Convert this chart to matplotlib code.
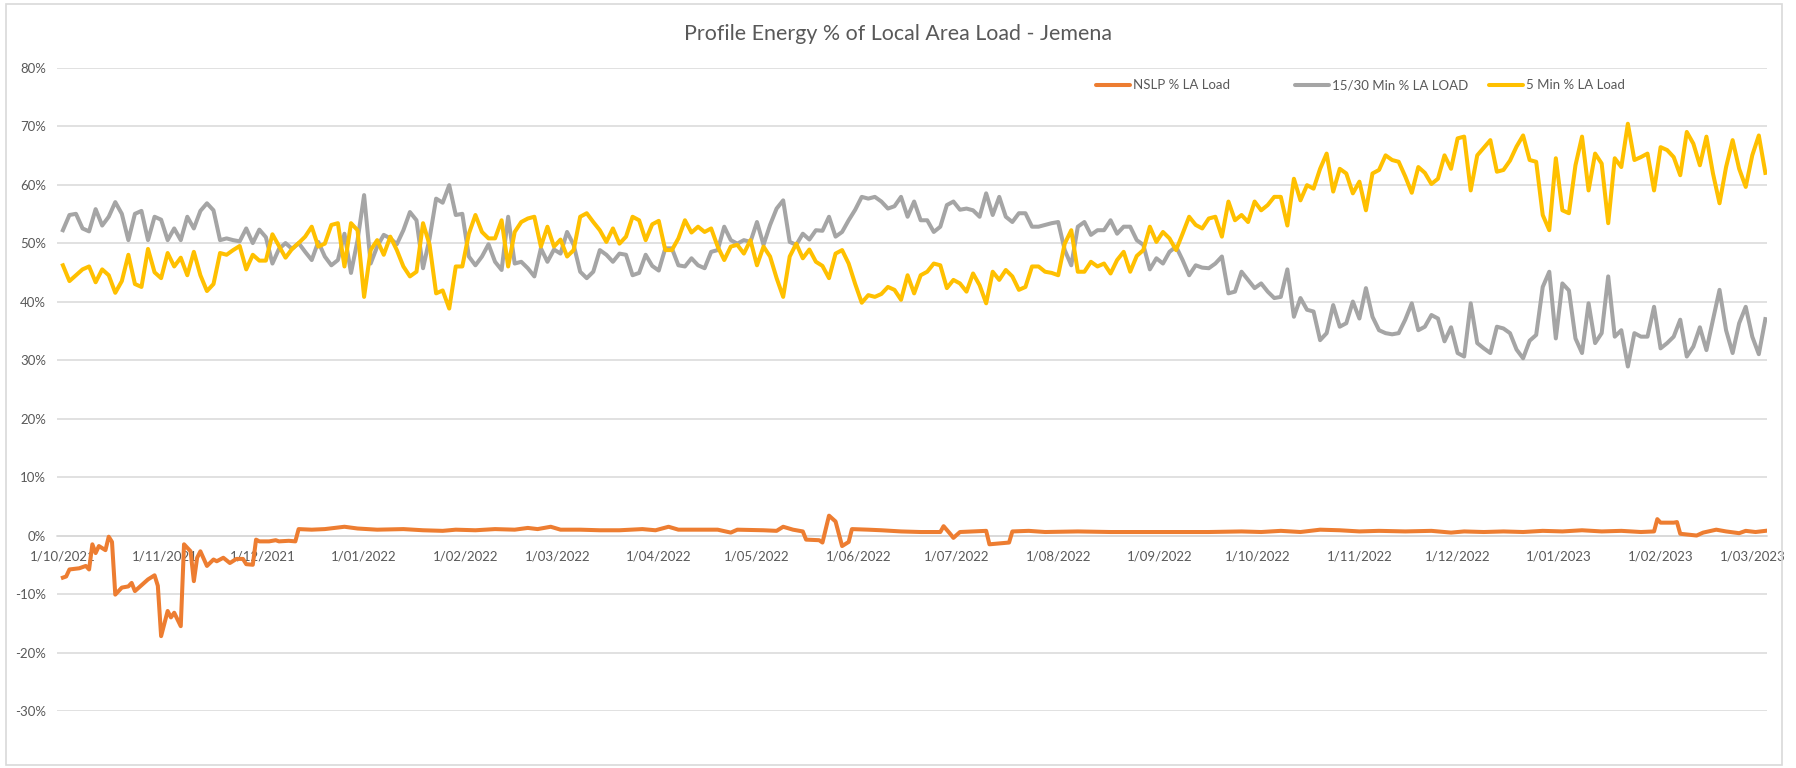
import matplotlib
matplotlib.use("Agg")
import matplotlib.pyplot as plt
import matplotlib.dates as mdates
from matplotlib.lines import Line2D
from matplotlib.patches import Rectangle
import numpy as np
import pandas as pd

W, H = 1796, 768
START = pd.Timestamp("2021-10-01")

# 15/30 min and 5 min shares, one value every second day from START (%)
STEP_DAYS = 2
min15_30_pct = [
    52.2, 54.8, 55.0, 52.5, 52.0, 55.8, 53.0, 54.5, 57.0, 55.0, 50.5, 55.0, 55.5, 50.5, 54.5, 54.0,
    50.5, 52.5, 50.5, 54.5, 52.5, 55.5, 56.8, 55.6, 50.5, 50.8, 50.5, 50.3, 52.5, 50.0, 52.3, 51.0,
    46.5, 49.0, 50.0, 49.0, 50.0,
    48.5, 47.1, 50.2, 47.7, 46.2, 47.1, 51.6, 44.9, 50.5, 58.2, 46.5, 49.4, 51.4, 50.8, 49.8, 52.2,
    55.3, 53.9, 45.7, 50.8, 57.6, 56.9, 59.9, 54.8, 55.0, 47.7, 46.2, 47.7, 49.8, 46.8, 45.4, 54.5,
    46.5, 46.8, 45.7, 44.3, 49.1,
    46.8, 48.9, 48.2, 51.9, 49.7, 45.1, 44.0, 45.1, 48.8, 48.0, 46.8, 48.2, 48.0, 44.5, 44.9, 48.0,
    46.1, 45.3, 49.1, 49.1, 46.2, 46.0, 47.4, 46.2, 45.7, 48.5, 48.8, 52.8, 50.5, 49.9, 50.5, 50.2,
    53.6, 49.7, 53.1, 55.9, 57.3, 50.2,
    49.7, 51.6, 50.6, 52.2, 52.1, 54.5, 51.1, 51.9, 53.9, 55.7, 57.9, 57.6, 57.9, 57.1, 55.9, 56.3,
    57.9, 54.5, 57.1, 53.9, 53.9, 51.9, 52.8, 56.5, 57.1, 55.7, 55.9, 55.6, 54.5, 58.5, 54.8, 57.9,
    54.5, 53.6, 55.1, 55.1, 52.8, 52.8,
    53.1, 53.4, 53.6, 48.8, 46.2, 52.8, 53.6, 51.4, 52.2, 52.2, 53.9, 51.6, 52.8, 52.8, 50.5, 49.7,
    45.5, 47.4, 46.5, 48.5, 49.4, 47.1, 44.5, 46.2, 45.8, 45.7, 46.5, 47.7, 41.4, 41.7, 45.1, 43.7,
    42.3, 43.1, 41.7, 40.6, 40.8,
    45.5, 37.4, 40.6, 38.6, 38.3, 33.4, 34.6, 39.4, 35.7, 36.3, 40.0, 37.1, 42.3, 37.4, 35.1, 34.6,
    34.4, 34.6, 36.9, 39.7, 35.1, 35.7, 37.7, 37.1, 33.2, 35.6, 31.2, 30.6, 39.7, 32.9, 32.0, 31.2,
    35.7, 35.4, 34.6, 31.8, 30.3,
    33.3, 34.3, 42.5, 45.1, 33.7, 43.1, 41.9, 33.7, 31.2, 39.7, 32.9, 34.6, 44.3, 34.0, 35.1, 28.9,
    34.6, 34.0, 34.0, 39.1, 32.0, 32.9, 34.0, 36.9, 30.6, 32.3, 35.6, 31.7, 36.9, 42.0, 35.1, 31.2,
    36.3, 39.1, 34.0, 31.0, 37.0,
]
min5_pct = [
    46.2, 43.5, 44.5, 45.5, 46.0, 43.3, 45.5, 44.5, 41.5, 43.5, 48.0, 43.0, 42.5, 49.0, 45.0, 44.0,
    48.3, 46.0, 47.5, 44.5, 48.5, 44.5, 41.8, 43.0, 48.3, 48.0, 48.8, 49.5, 45.5, 48.0, 47.0, 47.0,
    51.5, 49.5, 47.5, 49.0, 50.0,
    51.1, 52.8, 49.4, 49.9, 53.1, 53.4, 46.0, 53.4, 52.2, 40.8, 48.8, 50.5, 48.0, 51.1, 48.8, 46.0,
    44.3, 45.1, 53.4, 49.7, 41.4, 41.9, 38.8, 46.0, 46.0, 51.6, 54.8, 51.9, 50.8, 50.8, 53.9, 46.0,
    51.9, 53.6, 54.2, 54.5, 49.4,
    52.8, 49.4, 50.6, 47.7, 48.8, 54.5, 55.1, 53.6, 52.2, 50.2, 52.5, 49.9, 51.1, 54.5, 53.9, 50.5,
    53.2, 53.8, 48.8, 48.8, 50.8, 53.9, 51.8, 52.8, 51.9, 52.5, 49.4, 47.1, 49.4, 49.7, 48.2, 50.5,
    46.2, 49.4, 47.7, 44.0, 40.8, 47.7,
    49.9, 47.4, 48.9, 46.8, 46.1, 44.0, 48.2, 48.8, 46.5, 43.0, 39.8, 41.1, 40.8, 41.3, 42.5, 42.0,
    40.3, 44.5, 41.4, 44.5, 45.1, 46.5, 46.2, 42.3, 43.7, 43.1, 41.7, 44.8, 42.8, 39.7, 45.1, 43.7,
    45.4, 44.3, 42.0, 42.5, 46.0, 46.0,
    45.1, 44.9, 44.5, 49.9, 52.2, 45.1, 45.1, 46.8, 46.0, 46.5, 44.8, 47.1, 48.5, 45.1, 47.8, 48.8,
    52.8, 50.2, 51.9, 50.8, 48.8, 51.6, 54.5, 53.1, 52.5, 54.2, 54.5, 51.1, 57.1, 53.9, 54.8, 53.6,
    57.1, 55.6, 56.5, 57.9, 57.9,
    53.0, 61.0, 57.3, 59.9, 59.3, 62.7, 65.3, 58.8, 62.7, 61.9, 58.5, 60.5, 55.6, 61.9, 62.5, 65.0,
    64.2, 63.9, 61.4, 58.6, 63.0, 62.0, 60.1, 61.0, 65.0, 62.7, 67.9, 68.2, 59.0, 65.0, 66.3, 67.6,
    62.2, 62.5, 64.1, 66.5, 68.4,
    64.2, 63.9, 54.8, 52.2, 64.5, 55.6, 55.1, 63.3, 68.2, 59.0, 65.3, 63.6, 53.4, 64.5, 63.0, 70.4,
    64.2, 64.7, 65.3, 59.0, 66.4, 65.9, 64.7, 61.6, 69.0, 67.0, 63.3, 68.2, 61.9, 56.8, 63.0, 67.6,
    62.7, 59.6, 65.0, 68.4, 62.0,
]

# NSLP share: day offset from START and value (%)
nslp_days = [
    0, 1, 2, 5, 7, 8, 9, 10, 11, 13, 14, 15, 16, 18, 20, 21, 22, 26, 28, 29, 30, 32, 33, 34, 36,
    37, 39, 40, 41, 42, 44, 46, 47, 49, 51, 53, 55, 56, 58, 59, 60, 63, 65, 66, 69, 71, 72, 76,
    80, 86, 90, 96, 104, 110, 116, 120, 126, 132, 138, 142, 145, 149, 152, 158, 164, 170, 177,
    181, 185, 188, 195, 200, 204, 206, 214, 218, 220, 223, 226, 227, 231, 232, 234, 236, 238,
    240, 241, 246, 250, 256, 262, 268, 269, 271, 272, 274, 282, 283, 289, 290, 295, 300, 310,
    320, 330, 340, 350, 360, 366, 372, 378, 384, 390, 396, 402, 410, 418, 424, 428, 434, 440,
    446, 452, 458, 464, 470, 476, 482, 486, 487, 488, 492, 493, 494, 499, 501, 505, 508, 512,
    514, 517, 520,
]
nslp_pct = [
    -7.2, -7.0, -5.8, -5.6, -5.2, -5.8, -1.5, -3.0, -1.8, -2.5, -0.2, -1.1, -10.1, -8.9, -8.7,
    -8.1, -9.5, -7.5, -6.8, -8.6, -17.2, -12.9, -14.0, -13.2, -15.5, -1.5, -2.7, -7.8, -3.8,
    -2.7, -5.2, -4.1, -4.4, -3.8, -4.7, -4.0, -4.0, -4.9, -5.0, -0.7, -1.0, -1.0, -0.8, -1.0,
    -0.9, -1.0, 1.1, 1.0, 1.1, 1.5, 1.2, 1.0, 1.1, 0.9, 0.8, 1.0, 0.9, 1.1, 1.0, 1.3, 1.1, 1.5,
    1.0, 1.0, 0.9, 0.9, 1.1, 0.9, 1.5, 1.0, 1.0, 1.0, 0.5, 1.0, 0.9, 0.8, 1.5, 1.0, 0.7, -0.7,
    -0.8, -1.2, 3.4, 2.4, -1.8, -1.1, 1.1, 1.0, 0.9, 0.7, 0.6, 0.6, 1.6, 0.3, -0.4, 0.6, 0.8,
    -1.5, -1.2, 0.7, 0.8, 0.6, 0.7, 0.6, 0.6, 0.6, 0.6, 0.7, 0.6, 0.8, 0.6, 1.0, 0.9, 0.7, 0.8,
    0.7, 0.8, 0.5, 0.7, 0.6, 0.7, 0.6, 0.8, 0.7, 0.9, 0.7, 0.8, 0.6, 0.7, 2.8, 2.2, 2.2, 2.3,
    0.3, 0.0, 0.5, 1.0, 0.7, 0.4, 0.8, 0.6, 0.8,
]

month_labels = [
    "1/10/2021", "1/11/2021", "1/12/2021", "1/01/2022", "1/02/2022", "1/03/2022",
    "1/04/2022", "1/05/2022", "1/06/2022", "1/07/2022", "1/08/2022", "1/09/2022",
    "1/10/2022", "1/11/2022", "1/12/2022", "1/01/2023", "1/02/2023", "1/03/2023",
]
series_names = ["NSLP % LA Load", "15/30 Min % LA LOAD", "5 Min % LA Load"]
series_colors = ["#ED7D31", "#A5A5A5", "#FFC000"]
TEXT = "#595959"
GRID = "#D9D9D9"
FONT = ["Lato", "DejaVu Sans"]

plt.rcParams["font.family"] = FONT

t0 = mdates.date2num(START)
grid_x = t0 + np.arange(len(min5_pct)) * STEP_DAYS
nslp_x = t0 + np.array(nslp_days)
month_x = [mdates.date2num(pd.Timestamp(f"{s[-4:]}-{s[2:4]}-01")) for s in month_labels]

fig = plt.figure(figsize=(W / 100, H / 100), dpi=100)

# chart area frame
fig.add_artist(Rectangle((6 / W, 1 - 765 / H), (1782 - 6) / W, (765 - 4) / H,
                         transform=fig.transFigure, fill=False, edgecolor=GRID, lw=1.2))

ax_left, ax_right = 57, 1767
ax_top, ax_bottom = 67.6, 711
ax = fig.add_axes([ax_left / W, 1 - ax_bottom / H, (ax_right - ax_left) / W, (ax_bottom - ax_top) / H])

lw = 2.9
ax.plot(nslp_x, nslp_pct, color=series_colors[0], lw=lw, solid_joinstyle="round", zorder=3)
ax.plot(grid_x, min15_30_pct, color=series_colors[1], lw=lw, solid_joinstyle="round", zorder=4)
ax.plot(grid_x, min5_pct, color=series_colors[2], lw=lw, solid_joinstyle="round", zorder=5)

ax.set_xlim(t0 - 1.8, t0 + 520.5)
ax.set_ylim(-30, 80)
ax.set_yticks(np.arange(-30, 81, 10))
ax.set_yticklabels([f"{v}%" for v in range(-30, 81, 10)])
ax.set_xticks(month_x)
ax.set_xticklabels(month_labels)

ax.yaxis.grid(True, color=GRID, lw=1.1)
ax.set_axisbelow(True)
for side in ["left", "right", "top"]:
    ax.spines[side].set_visible(False)
ax.spines["bottom"].set_position(("data", 0))
ax.spines["bottom"].set_color(GRID)
ax.spines["bottom"].set_linewidth(1.1)
ax.tick_params(axis="both", length=0, labelcolor=TEXT, labelsize=9.5)
ax.tick_params(axis="y", pad=8)
ax.tick_params(axis="x", pad=11)

fig.text(898 / W, 1 - 34 / H, "Profile Energy % of Local Area Load - Jemena",
         ha="center", va="center", color=TEXT, fontsize=15.4)

# legend row
leg_y = 1 - 85 / H
for x0, name, col in zip([1096, 1295, 1489], series_names, series_colors):
    fig.add_artist(Line2D([x0 / W, (x0 + 34) / W], [leg_y, leg_y], transform=fig.transFigure,
                          color=col, lw=lw, solid_capstyle="round"))
    fig.text((x0 + 37) / W, leg_y, name, ha="left", va="center", color=TEXT, fontsize=9.5)

fig.savefig("out.png", dpi=100, facecolor="white")
